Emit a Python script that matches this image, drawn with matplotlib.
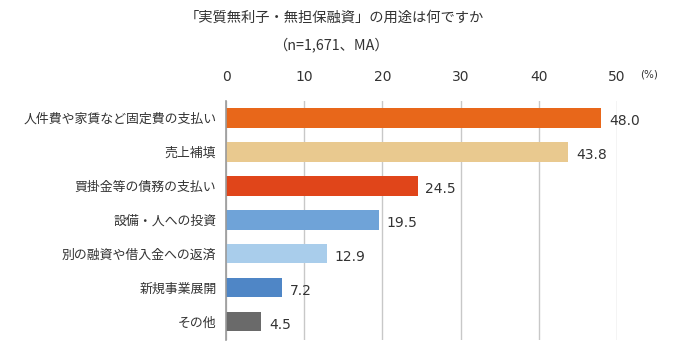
import matplotlib.pyplot as plt
plt.rcParams['font.family'] = ['Noto Sans CJK JP', 'DejaVu Sans']

# data
labels = ['人件費や家賃など固定費の支払い', '売上補填', '買掛金等の債務の支払い', '設備・人への投資',
          '別の融資や借入金への返済', '新規事業展開', 'その他']
values = [48.0, 43.8, 24.5, 19.5, 12.9, 7.2, 4.5]
colors = ['#E8671A', '#E9C98F', '#E0451A', '#6FA3D8', '#A9CDEB', '#4F86C6', '#6A6A6A']
xticks = [0, 10, 20, 30, 40, 50]

fig = plt.figure(figsize=(6.75, 3.61), dpi=100)
ax = fig.add_axes([0.335, 0.058, 0.579, 0.662])

y = list(range(len(labels)))
ax.barh(y, values, height=0.58, color=colors, zorder=3)
for i, v in enumerate(values):
    ax.text(v + 1.0, i + 0.1, f'{v:.1f}', va='center', ha='left', fontsize=10,
            color='#333333', family='DejaVu Sans')

ax.set_xlim(0, 50)
ax.set_ylim(len(labels) - 0.45, -0.5)
ax.set_xticks(xticks)
ax.set_xticklabels([str(t) for t in xticks], family='DejaVu Sans')
ax.xaxis.tick_top()
ax.tick_params(axis='x', length=0, labelsize=10, colors='#333333', pad=12)
ax.set_yticks(y)
ax.set_yticklabels(labels, fontsize=9.3, color='#333333')
ax.tick_params(axis='y', length=0, pad=7)
ax.grid(axis='x', color='#C8C8C8', linewidth=1, zorder=0)
for s in ['top', 'right', 'bottom']:
    ax.spines[s].set_visible(False)
ax.spines['left'].set_color('#9A9A9A')
ax.spines['left'].set_linewidth(1.2)
ax.spines['left'].set_zorder(4)

fig.text(0.962, 0.785, '(%)', fontsize=7.5, color='#333333', ha='center', family='DejaVu Sans')
fig.text(0.495, 0.95, '「実質無利子・無担保融資」の用途は何ですか', ha='center', va='center', fontsize=10.3, color='#333333')
fig.text(0.49, 0.875, '（n=1,671、MA）', ha='center', va='center', fontsize=10.3, color='#333333')

fig.savefig('out.png', dpi=100)
